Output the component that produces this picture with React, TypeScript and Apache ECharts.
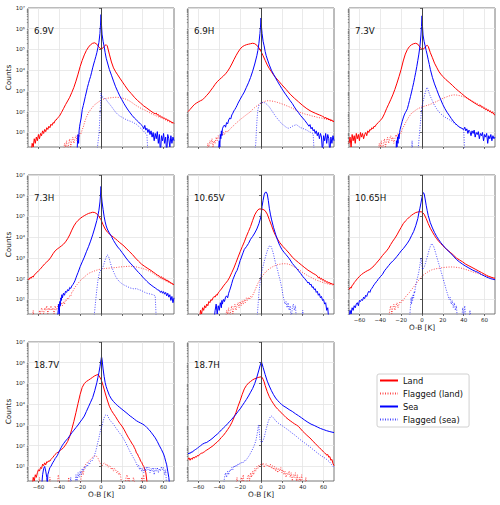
import React, { useEffect, useRef } from 'react';
import * as echarts from 'echarts';

type Pt = [number, number];

const PANEL_LABELS = ['6.9V', '6.9H', '7.3V', '7.3H', '10.65V', '10.65H', '18.7V', '18.7H'];
const SERIES_NAMES = ['Land', 'Flagged (land)', 'Sea', 'Flagged (sea)'];
const X_TICKS = [-60, -40, -20, 0, 20, 40, 60];
const Y_TICKS = [10, 100, 1000, 1e4, 1e5, 1e6, 1e7];
const X_MIN = -70;
const X_MAX = 70;
const Y_MIN = 2;
const Y_MAX = 1e7;
const X_NAME = 'O-B [K]';
const Y_NAME = 'Counts';

// ---------- 6.9V ----------
const LAND_69V: Pt[] = [[-67,1],[-66,3],[-65,2],[-64,5],[-63,3],[-62,6],[-61,4],[-60,8],[-59,5],[-58,9],[-57,7],[-56,12],[-55,9],[-54,14],[-53,11],[-52,17],[-51,14],[-50,20],[-49,17],[-48,25],[-47,22],[-46,30],[-45,28],[-44,38],[-43,40],[-42,48],[-40,60],[-38,90],[-36,140],[-34,220],[-32,330],[-30,500],[-28,850],[-26,1500],[-24,3000],[-22,6500],[-20,1.5e4],[-18,3e4],[-16,5.5e4],[-14,9e4],[-12,1.3e5],[-10,1.7e5],[-8,2e5],[-6,2.1e5],[-4,1.8e5],[-2,1.3e5],[0,1.05e5],[2,1.2e5],[4,1.6e5],[5,1.7e5],[6,1.5e5],[8,6e4],[10,2.5e4],[12,1.3e4],[14,8.5e3],[16,6e3],[18,4.2e3],[20,3e3],[23,1.8e3],[26,1.1e3],[29,750],[32,500],[35,350],[38,260],[41,190],[44,150],[47,115],[50,90],[52,80],[53,86],[54,70],[55,74],[56,60],[57,64],[58,54],[59,56],[60,48],[61,50],[62,42],[63,45],[64,37],[65,40],[66,33],[67,35],[68,29],[69,31],[70,27]];
const FLAG_LAND_69V: Pt[] = [[-36,1],[-35,3],[-34,2],[-33,4],[-32,1],[-31,3],[-30,5],[-29,2],[-28,4],[-27,6],[-26,3],[-25,5],[-24,7],[-23,4],[-22,8],[-21,6],[-20,10],[-19,9],[-18,14],[-17,18],[-16,28],[-15,40],[-14,55],[-13,70],[-12,90],[-10,125],[-8,170],[-6,220],[-4,260],[-2,310],[0,350],[2,400],[4,430],[6,450],[9,470],[12,490],[15,500],[18,480],[21,450],[24,400],[27,340],[30,270],[33,210],[36,170],[39,140],[42,120],[45,100],[48,82],[51,70],[54,60],[57,52],[60,45],[63,38],[66,32],[70,26]];
const SEA_69V: Pt[] = [[-23,1],[-22.5,4],[-22,8],[-21.5,3],[-21,12],[-20.5,20],[-20,28],[-19,50],[-18,125],[-17,200],[-16,330],[-15,550],[-14,900],[-13,1.5e3],[-12,2.3e3],[-11,3.5e3],[-10,5e3],[-9,8e3],[-8,1.3e4],[-7,2e4],[-6,3e4],[-5,4.5e4],[-4,7e4],[-3,1.2e5],[-2,2.2e5],[-1,6e5],[-0.5,1.5e6],[0,4.8e6],[0.5,1.5e6],[1,5.5e5],[2,2.5e5],[3,1.4e5],[4,7e4],[5,3.8e4],[6,2.5e4],[8,1.1e4],[10,5.8e3],[12,3e3],[14,1.6e3],[16,950],[18,580],[20,380],[22,250],[24,170],[26,120],[28,88],[30,65],[32,50],[34,40],[36,32],[38,25],[40,20],[41,15],[42,22],[43,13],[44,16],[45,10],[46,14],[47,8],[48,12],[49,6],[50,10],[51,4],[52,9],[53,5],[54,11],[55,3],[56,8],[57,1],[58,7],[59,4],[60,9],[61,3],[62,6],[63,1],[64,8],[65,5],[66,2],[67,7],[68,3],[69,6],[70,4]];
const FLAG_SEA_69V: Pt[] = [[-4,1],[-3,3],[-2,8],[-1.5,20],[-1,60],[-0.5,200],[0,800],[0.5,600],[1,500],[2,520],[3,450],[4,400],[5,380],[6,320],[8,240],[10,180],[12,130],[14,95],[16,75],[18,62],[20,55],[22,48],[24,42],[26,38],[28,35],[30,32],[32,28],[34,25],[36,20],[38,16],[40,13],[42,10],[44,8],[45,1]];

// ---------- 6.9H ----------
const LAND_69H: Pt[] = [[-70,100],[-68,130],[-66,170],[-64,220],[-62,260],[-60,300],[-58,340],[-56,380],[-54,480],[-52,620],[-50,800],[-48,1.1e3],[-46,1.5e3],[-44,2.1e3],[-42,2.8e3],[-40,3.5e3],[-38,4.3e3],[-36,5.3e3],[-34,6.7e3],[-32,9e3],[-30,1.3e4],[-28,2e4],[-26,3.2e4],[-24,5e4],[-22,7.5e4],[-20,1.05e5],[-18,1.35e5],[-16,1.55e5],[-14,1.7e5],[-12,1.8e5],[-10,1.9e5],[-8,2e5],[-6,1.9e5],[-4,1.6e5],[-2,1.2e5],[0,8e4],[2,5e4],[4,3e4],[6,1.8e4],[8,1.2e4],[10,8.5e3],[12,6e3],[14,4.5e3],[17,3e3],[20,2e3],[24,1.2e3],[28,700],[32,450],[36,300],[40,200],[44,140],[48,105],[52,85],[56,70],[58,64],[59,60],[60,58],[61,48],[62,55],[63,44],[64,50],[65,40],[66,45],[67,36],[68,40],[69,33],[70,35]];
const FLAG_LAND_69H: Pt[] = [[-52,1],[-51,3],[-50,2],[-49,4],[-48,3],[-47,5],[-46,2],[-45,4],[-44,3],[-43,6],[-42,4],[-41,7],[-40,5],[-39,6],[-38,9],[-37,7],[-36,10],[-35,8],[-34,11],[-33,10],[-32,13],[-31,12],[-30,14],[-28,18],[-26,22],[-24,28],[-22,34],[-20,42],[-18,50],[-16,60],[-14,72],[-12,85],[-10,100],[-8,130],[-6,160],[-4,190],[-2,220],[0,260],[2,290],[4,320],[6,340],[8,340],[10,330],[13,310],[16,280],[19,250],[22,220],[25,190],[28,165],[31,140],[34,115],[37,95],[40,85],[43,75],[46,70],[49,62],[52,58],[55,52],[58,50],[61,46],[64,42],[67,40],[70,38]];
const SEA_69H: Pt[] = [[-41,1],[-40,4],[-39.5,2],[-39,8],[-38.5,5],[-38,12],[-37.5,7],[-37,15],[-36,20],[-35,23],[-34,18],[-33,30],[-32,26],[-31,40],[-30,50],[-29,45],[-28,70],[-27,85],[-26,110],[-25,130],[-24,160],[-23,200],[-22,260],[-20,400],[-18,600],[-16,900],[-14,1.5e3],[-12,2.5e3],[-10,4.5e3],[-8,9e3],[-6,2e4],[-4,5e4],[-3,9e4],[-2,2e5],[-1,6e5],[-0.5,1.2e6],[0,3.3e6],[0.5,1.2e6],[1,6e5],[2,2.5e5],[3,1.5e5],[4,8e4],[5,5e4],[6,3.5e4],[8,1.8e4],[10,1e4],[12,6.5e3],[14,4.2e3],[16,2.8e3],[18,1.9e3],[20,1.3e3],[22,900],[24,650],[26,470],[28,340],[30,250],[32,170],[34,120],[36,90],[38,65],[40,50],[42,38],[44,28],[46,20],[47,24],[48,15],[49,18],[50,12],[51,14],[52,9],[53,12],[54,7],[55,10],[56,5],[57,9],[58,6],[59,1],[60,7],[61,4],[62,9],[63,3],[64,8],[65,5],[66,1],[67,6],[68,3],[69,7],[70,4]];
const FLAG_SEA_69H: Pt[] = [[-6,1],[-5,3],[-4.5,10],[-4,30],[-3.5,70],[-3,120],[-2,200],[-1,250],[0,270],[1,280],[2,270],[3,280],[4,260],[5,240],[6,220],[8,170],[10,120],[12,85],[14,60],[16,45],[18,34],[20,26],[22,22],[24,18],[26,16],[28,17],[30,20],[32,22],[34,24],[36,20],[38,17],[40,16],[42,14],[44,13],[46,11],[48,10],[50,9],[51,1]];

// ---------- 7.3V ----------
const LAND_73V: Pt[] = [[-70,3],[-69,6],[-68,2],[-67,8],[-66,4],[-65,7],[-64,3],[-63,9],[-62,5],[-61,8],[-60,4],[-59,10],[-58,6],[-57,9],[-56,5],[-55,8],[-54,10],[-53,7],[-52,12],[-51,10],[-50,14],[-49,13],[-48,17],[-47,15],[-46,20],[-45,19],[-44,24],[-43,26],[-42,30],[-40,38],[-38,50],[-36,80],[-34,140],[-32,230],[-30,380],[-28,650],[-26,1.2e3],[-24,2.4e3],[-22,5e3],[-20,1.1e4],[-18,2.8e4],[-16,6e4],[-14,1e5],[-12,1.4e5],[-10,1.7e5],[-8,1.9e5],[-6,2e5],[-4,1.8e5],[-2,1.3e5],[0,1e5],[2,1.1e5],[4,1.5e5],[5,1.6e5],[6,1.4e5],[8,7e4],[10,4e4],[12,2.2e4],[14,1.4e4],[16,9e3],[18,6.5e3],[20,5e3],[23,3.5e3],[26,2.6e3],[29,1.9e3],[32,1.35e3],[35,1e3],[38,750],[41,560],[44,430],[47,340],[50,270],[53,220],[55,190],[56,205],[57,165],[58,175],[59,145],[60,150],[61,125],[62,135],[63,110],[64,118],[65,98],[66,102],[67,86],[68,92],[69,74],[70,70]];
const FLAG_LAND_73V: Pt[] = [[-42,1],[-41,3],[-40,2],[-39,4],[-38,1],[-37,3],[-36,5],[-35,2],[-34,4],[-33,6],[-32,3],[-31,5],[-30,7],[-29,4],[-28,6],[-27,3],[-26,5],[-25,8],[-24,6],[-23,9],[-22,7],[-21,10],[-20,9],[-19,14],[-18,18],[-17,22],[-16,28],[-15,35],[-14,42],[-13,52],[-12,62],[-10,85],[-8,100],[-6,120],[-4,140],[-2,155],[0,170],[3,190],[6,210],[9,240],[12,280],[15,330],[18,400],[21,460],[24,530],[27,600],[30,650],[33,640],[36,600],[39,550],[42,480],[45,400],[48,340],[51,280],[54,230],[57,190],[60,160],[63,130],[66,110],[70,87]];
const SEA_73V: Pt[] = [[-25,1],[-24.5,4],[-24,2],[-23.5,6],[-23,3],[-22.5,8],[-22,5],[-21.5,10],[-21,14],[-20,22],[-19,34],[-18,50],[-17,70],[-16,90],[-15,110],[-14,140],[-13,220],[-12,350],[-11,550],[-10,900],[-9,1.5e3],[-8,2.5e3],[-7,4.5e3],[-6,8e3],[-5,1.5e4],[-4,3e4],[-3,6e4],[-2,1.4e5],[-1,5e5],[-0.5,1.3e6],[0,4.2e6],[0.5,1.3e6],[1,5e5],[2,2.5e5],[3,1.5e5],[4,9e4],[5,5.5e4],[6,3.2e4],[7,1.9e4],[8,1.1e4],[10,4.5e3],[12,2.2e3],[14,1.2e3],[16,650],[18,380],[20,220],[22,140],[24,95],[26,68],[28,48],[30,35],[32,27],[34,22],[36,18],[38,16],[40,14],[41,18],[42,12],[43,15],[44,9],[45,13],[46,11],[47,7],[48,12],[49,9],[50,13],[51,6],[52,10],[53,8],[54,11],[55,5],[56,9],[57,7],[58,10],[59,4],[60,8],[61,6],[62,9],[63,3],[64,7],[65,5],[66,8],[67,4],[68,7],[69,5],[70,6]];
const FLAG_SEA_73V: Pt[] = [[-10,1],[-9.5,4],[-9,1],[-4,1],[-3,4],[-2,15],[-1,60],[0,180],[1,300],[2,500],[3,800],[4,1.2e3],[4.8,1.5e3],[5.5,1.3e3],[6.5,900],[8,550],[9.5,380],[11,250],[12.7,180],[14,140],[16,100],[18,80],[20,65],[22,55],[24,48],[26,42],[28,36],[30,30],[32,25],[34,21],[36,18],[38,16],[40,14],[41,1]];

// ---------- 7.3H ----------
const LAND_73H: Pt[] = [[-70,100],[-69,90],[-68,115],[-67,105],[-66,130],[-65,120],[-64,150],[-62,190],[-60,240],[-58,300],[-56,400],[-54,520],[-52,650],[-50,800],[-48,1.1e3],[-46,1.6e3],[-44,2.2e3],[-42,2.7e3],[-40,3.2e3],[-38,3.8e3],[-36,4.6e3],[-34,6e3],[-32,8.5e3],[-30,1.3e4],[-28,2.2e4],[-26,3.5e4],[-24,5e4],[-22,6.5e4],[-20,8e4],[-18,9.5e4],[-16,1.1e5],[-14,1.25e5],[-12,1.4e5],[-10,1.5e5],[-8,1.6e5],[-6,1.55e5],[-4,1.35e5],[-2,1e5],[0,7e4],[2,4e4],[4,2.5e4],[6,1.8e4],[8,1.45e4],[10,1.2e4],[12,1e4],[14,8.3e3],[16,6.8e3],[18,5.5e3],[21,4.2e3],[24,3e3],[27,2.1e3],[30,1.5e3],[33,1e3],[36,700],[39,500],[42,390],[45,310],[48,250],[50,210],[52,180],[54,150],[56,135],[57,115],[58,125],[59,100],[60,110],[61,90],[62,95],[63,78],[64,85],[65,68],[66,72],[67,60],[68,62],[69,52],[70,55]];
const FLAG_LAND_73H: Pt[] = [[-66,1],[-65,3],[-64,1],[-60,1],[-59,3],[-58,2],[-57,4],[-56,3],[-55,2],[-54,4],[-53,3],[-52,5],[-51,2],[-50,4],[-49,3],[-48,5],[-47,3],[-46,4],[-45,2],[-44,5],[-43,3],[-42,4],[-41,6],[-40,4],[-39,5],[-38,7],[-37,5],[-36,8],[-35,6],[-34,10],[-33,9],[-32,12],[-31,11],[-30,15],[-29,14],[-28,22],[-27,25],[-26,32],[-25,38],[-24,45],[-23,52],[-22,60],[-20,80],[-18,100],[-16,120],[-14,150],[-12,180],[-10,200],[-8,220],[-6,240],[-4,260],[-2,280],[0,290],[3,310],[6,320],[9,330],[12,340],[15,350],[18,370],[21,380],[24,390],[27,400],[30,395],[33,380],[36,350],[39,320],[42,290],[45,250],[48,210],[51,170],[54,130],[57,105],[60,90],[63,75],[66,65],[70,52]];
const SEA_73H: Pt[] = [[-42,1],[-41,3],[-40.5,6],[-40,2],[-39.5,8],[-39,5],[-38.5,12],[-38,9],[-37.5,17],[-37,12],[-36,20],[-35,16],[-34,25],[-33,22],[-32,30],[-31,26],[-30,38],[-29,34],[-28,45],[-27,52],[-26,63],[-25,80],[-24,110],[-23,150],[-22,200],[-20,380],[-18,650],[-16,1.1e3],[-14,2e3],[-12,3.5e3],[-10,6.5e3],[-8,1.3e4],[-6,2.8e4],[-4,6.5e4],[-3,1.1e5],[-2,2e5],[-1,5e5],[-0.5,1e6],[0,2.8e6],[0.5,1e6],[1,5e5],[2,2.2e5],[3,1e5],[4,5.5e4],[5,3.5e4],[6,2.5e4],[8,1.6e4],[10,1.1e4],[12,7e3],[14,4.8e3],[16,3.4e3],[18,2.6e3],[20,1.9e3],[22,1.4e3],[24,1e3],[26,750],[28,570],[30,450],[32,340],[34,260],[36,200],[38,160],[40,120],[42,95],[44,75],[46,60],[48,50],[50,42],[52,36],[54,30],[56,27],[57,22],[58,26],[59,20],[60,24],[61,18],[62,22],[63,15],[64,20],[65,13],[66,17],[67,9],[68,14],[69,7],[70,12]];
const FLAG_SEA_73H: Pt[] = [[-7,1],[-6,3],[-5,10],[-4,30],[-3,80],[-2,150],[-1,230],[0,270],[1,300],[2,380],[3,550],[4,800],[5,1.1e3],[6,1.4e3],[6.5,1.45e3],[7,1.3e3],[8,900],[9,570],[10,400],[12,220],[14,130],[16,90],[18,70],[20,58],[22,50],[24,45],[26,40],[28,36],[30,34],[32,32],[34,34],[36,30],[38,28],[40,25],[42,22],[44,20],[46,19],[48,18],[50,17],[52,15],[53,1]];

// ---------- 10.65V ----------
const LAND_1065V: Pt[] = [[-59,1],[-58,3],[-57,2],[-56,4],[-55,3],[-54,5],[-53,4],[-52,6],[-51,5],[-50,8],[-49,7],[-48,10],[-47,9],[-46,12],[-45,14],[-44,13],[-43,17],[-42,16],[-41,21],[-40,24],[-39,28],[-38,32],[-36,45],[-34,60],[-32,80],[-30,120],[-28,200],[-26,330],[-24,600],[-22,1.1e3],[-20,2e3],[-18,3.5e3],[-16,6e3],[-14,1.1e4],[-12,1.9e4],[-10,3.3e4],[-8,6.5e4],[-6,1.2e5],[-4,1.8e5],[-2,2.3e5],[0,2.3e5],[2,2.2e5],[4,1.9e5],[6,1.3e5],[8,7e4],[10,3.8e4],[12,2e4],[14,1.2e4],[16,8e3],[18,5.5e3],[21,3.6e3],[24,2.5e3],[27,1.7e3],[30,1.1e3],[33,800],[36,600],[39,450],[42,340],[45,260],[48,210],[50,180],[52,160],[54,135],[55,110],[56,120],[57,95],[58,105],[59,85],[60,92],[61,75],[62,80],[63,66],[64,72],[65,60],[66,66],[67,55],[68,60],[69,52],[70,56]];
const FLAG_LAND_1065V: Pt[] = [[-34,1],[-33,3],[-32,2],[-31,4],[-30,1],[-29,3],[-28,5],[-27,2],[-26,4],[-25,6],[-24,3],[-23,5],[-22,7],[-21,4],[-20,8],[-19,5],[-18,9],[-17,6],[-16,10],[-15,7],[-14,12],[-13,9],[-12,13],[-11,10],[-10,14],[-9,12],[-8,16],[-7,20],[-6,26],[-5,35],[-4,45],[-3,60],[-2,75],[-1,90],[0,107],[2,150],[4,200],[6,250],[8,300],[10,350],[12,400],[14,440],[16,480],[18,500],[20,520],[22,530],[24,530],[26,510],[28,470],[30,420],[32,370],[34,320],[37,260],[40,200],[43,160],[46,130],[49,110],[52,90],[55,80],[58,70],[61,62],[64,57],[67,52],[70,50]];
const SEA_1065V: Pt[] = [[-45,1],[-44,3],[-43,6],[-42,2],[-41,5],[-40,3],[-39,7],[-38,4],[-37.5,9],[-37,6],[-36,10],[-35,8],[-34,13],[-33,15],[-32,12],[-31,20],[-30,28],[-29,40],[-28,60],[-27,90],[-26,120],[-25,160],[-24,210],[-23,250],[-22,350],[-21,500],[-20,750],[-19,1e3],[-18,1.4e3],[-17,1.9e3],[-16,2.6e3],[-14,3.5e3],[-12,5e3],[-10,8e3],[-8,1.1e4],[-6,1.6e4],[-4,2.5e4],[-2,4.5e4],[0,1e5],[1,3e5],[2,6e5],[3,1.1e6],[4,1.45e6],[5,1.5e6],[6,1.2e6],[7,6e5],[8,2.5e5],[9,1.3e5],[10,7.5e4],[12,3e4],[14,1.4e4],[16,7e3],[18,4e3],[20,2.6e3],[22,1.9e3],[24,1.45e3],[26,1.1e3],[28,800],[30,550],[32,420],[34,320],[36,240],[38,180],[40,130],[42,100],[44,75],[45,62],[46,68],[47,50],[48,55],[49,38],[50,42],[51,30],[52,33],[53,22],[54,25],[55,16],[56,19],[57,12],[58,14],[59,9],[60,10],[61,6],[62,7],[63,3],[64,4],[65,1]];
const FLAG_SEA_1065V: Pt[] = [[-4,1],[-3,4],[-2,20],[-1,60],[0,150],[1,250],[2,400],[3,650],[4,1e3],[5,1.5e3],[6,2.2e3],[7,3e3],[8,3.8e3],[9,4e3],[10,3.3e3],[11,2.3e3],[12,1.5e3],[13,900],[14,550],[15,380],[16,250],[17,150],[18,100],[19,60],[20,35],[21,17],[22,10],[23,6],[24,8],[25,4],[26,7],[27,3],[28,5],[29,1],[30,4],[31,6],[32,3],[33,5],[34,1],[39,1],[40,3],[41,1]];

// ---------- 10.65H ----------
const LAND_1065H: Pt[] = [[-70,30],[-69,38],[-68,35],[-67,48],[-66,52],[-65,65],[-64,75],[-62,100],[-60,130],[-58,160],[-56,190],[-54,220],[-52,250],[-50,280],[-48,340],[-46,420],[-44,550],[-42,720],[-40,950],[-38,1.3e3],[-36,1.7e3],[-34,2.2e3],[-32,3e3],[-30,4.5e3],[-28,6.5e3],[-26,9e3],[-24,1.3e4],[-22,2e4],[-20,3e4],[-18,4.5e4],[-16,6e4],[-14,7.5e4],[-12,9.5e4],[-10,1.15e5],[-8,1.35e5],[-6,1.55e5],[-4,1.65e5],[-2,1.7e5],[0,1.65e5],[2,1.3e5],[4,8e4],[6,4.5e4],[8,2.7e4],[10,1.8e4],[12,1.2e4],[14,8.5e3],[16,6.4e3],[18,5e3],[20,3.9e3],[22,3.1e3],[24,2.5e3],[27,1.9e3],[30,1.4e3],[33,1e3],[36,800],[39,650],[42,500],[45,420],[48,350],[51,290],[54,240],[57,200],[60,165],[62,145],[64,130],[66,120],[68,110],[70,105]];
const FLAG_LAND_1065H: Pt[] = [[-32,1],[-31,3],[-30,5],[-29,2],[-28,4],[-27,6],[-26,3],[-25,5],[-24,7],[-23,4],[-22,6],[-21,8],[-20,7],[-19,10],[-18,9],[-17,11],[-16,13],[-15,15],[-14,17],[-13,20],[-12,22],[-11,26],[-10,30],[-8,40],[-6,55],[-4,75],[-2,100],[0,130],[2,160],[4,190],[6,220],[8,250],[10,275],[13,300],[16,320],[19,340],[22,355],[25,365],[28,370],[31,365],[34,350],[37,330],[40,300],[43,270],[46,240],[49,210],[52,190],[55,170],[58,155],[61,140],[64,125],[67,115],[70,107]];
const SEA_1065H: Pt[] = [[-70,1],[-69,3],[-68,2],[-67,4],[-66,3],[-65,5],[-64,4],[-63,6],[-62,7],[-61,5],[-60,9],[-59,8],[-58,10],[-57,9],[-56,13],[-55,11],[-54,16],[-53,14],[-52,20],[-51,25],[-50,22],[-49,30],[-48,35],[-47,42],[-46,52],[-45,58],[-44,70],[-43,78],[-42,95],[-41,107],[-40,125],[-38,160],[-36,240],[-34,320],[-32,430],[-30,570],[-28,720],[-26,900],[-24,1.2e3],[-22,1.6e3],[-20,2.2e3],[-18,2.8e3],[-16,3.8e3],[-14,5.2e3],[-12,7.5e3],[-10,1.2e4],[-8,1.9e4],[-6,3.6e4],[-4,8e4],[-3,1.5e5],[-2,2.5e5],[-1,4.5e5],[0,8.5e5],[1,1.4e6],[1.5,1.45e6],[2,1.3e6],[3,7e5],[4,3.5e5],[5,1.9e5],[6,1.1e5],[8,5e4],[10,2.8e4],[12,1.7e4],[14,1.1e4],[16,7.7e3],[18,5.5e3],[20,4.2e3],[22,3.2e3],[24,2.5e3],[27,1.8e3],[30,1.25e3],[33,850],[36,640],[39,500],[42,400],[45,330],[48,270],[51,230],[54,200],[57,160],[60,135],[62,120],[64,110],[66,100],[68,95],[70,90]];
const FLAG_SEA_1065H: Pt[] = [[-12,1],[-11,5],[-10.5,12],[-10,6],[-9.5,14],[-9,9],[-8.5,18],[-8,12],[-7.5,25],[-7,20],[-6.5,35],[-6,45],[-5,80],[-4,130],[-3,220],[-2,450],[-1,1e3],[-0.5,800],[0,400],[0.5,280],[1,270],[2,350],[3,500],[4,750],[5,1.1e3],[6,1.7e3],[7,2.6e3],[8,3.6e3],[9,4.6e3],[9.5,4.9e3],[10,4.7e3],[11,3.8e3],[12,2.7e3],[13,1.8e3],[14,1.2e3],[15,800],[16,550],[17,370],[18,250],[19,170],[20,110],[21,75],[22,50],[23,32],[24,22],[25,15],[26,10],[27,13],[28,6],[29,9],[30,4],[31,7],[32,3],[33,5],[34,1],[38,1],[39,4],[40,2],[41,5],[42,1],[45,1],[46,3],[47,1]];

// ---------- 18.7V ----------
const LAND_187V: Pt[] = [[-66,1],[-65,3],[-64,2],[-63,4],[-62,3],[-61,5],[-60,7],[-59,6],[-58,9],[-57,8],[-56,13],[-55,11],[-54,15],[-53,12],[-52,17],[-51,16],[-50,19],[-49,18],[-48,22],[-47,25],[-46,28],[-45,33],[-44,38],[-43,42],[-42,48],[-41,45],[-40,55],[-39,60],[-38,65],[-36,80],[-34,110],[-32,160],[-30,280],[-28,630],[-26,1.5e3],[-24,4e3],[-22,1.1e4],[-20,3e4],[-18,6.5e4],[-16,1e5],[-14,1.25e5],[-12,1.45e5],[-10,1.7e5],[-8,2e5],[-6,2.35e5],[-4,2.6e5],[-3,2.7e5],[-2,2.4e5],[0,1.6e5],[2,8e4],[4,3.5e4],[6,1.6e4],[8,8e3],[10,5e3],[12,3.5e3],[14,2.5e3],[16,1.7e3],[18,1.2e3],[20,900],[22,620],[24,400],[26,260],[28,180],[30,120],[31,105],[32,80],[33,65],[34,45],[35,40],[36,30],[37,25],[38,18],[39,16],[40,12],[41,10],[42,7],[43,5],[44,2],[45,1]];
const FLAG_LAND_187V: Pt[] = [[-60,1],[-59,3],[-58,1],[-50,1],[-49,3],[-48,1],[-42,1],[-41,4],[-40,2],[-39,1],[-32,1],[-31,3],[-30,1],[-20,1],[-19,3],[-18,6],[-17,4],[-16,9],[-15,12],[-14,14],[-13,16],[-12,18],[-11,20],[-10,22],[-9,25],[-8,28],[-7,30],[-6,32],[-5,33],[-4,30],[-3,26],[-2,20],[-1,15],[0,12],[1,10],[2,13],[3,15],[4,14],[5,11],[6,13],[7,9],[8,11],[9,10],[10,7],[11,9],[12,6],[13,8],[14,7],[15,5],[16,6],[17,4],[18,5],[19,3],[20,1],[23,1],[24,3],[25,4],[26,2],[27,3],[28,1],[30,1],[31,3],[32,2],[33,1],[38,1],[39,3],[40,2],[41,4],[42,1]];
const SEA_187V: Pt[] = [[-57,1],[-56,4],[-55,8],[-54,10],[-53,6],[-52,3],[-51.5,1],[-51,4],[-50,6],[-49,9],[-48,10],[-47,13],[-46,16],[-45,19],[-44,24],[-43,28],[-42,33],[-41,42],[-40,55],[-39,68],[-38,85],[-37,105],[-36,125],[-34,170],[-32,220],[-30,300],[-28,420],[-26,560],[-24,750],[-22,1e3],[-20,1.4e3],[-18,1.9e3],[-16,2.7e3],[-14,4.5e3],[-12,7.5e3],[-10,1.25e4],[-8,2.1e4],[-6,4.5e4],[-4,1.1e5],[-3,1.9e5],[-2,3.3e5],[-1,6.5e5],[0,1.4e6],[0.5,1.95e6],[1,1.5e6],[2,5e5],[3,2.2e5],[4,1.1e5],[5,7e4],[6,5e4],[8,2.7e4],[10,1.8e4],[12,1.35e4],[14,1.05e4],[16,8.5e3],[18,7e3],[20,5.8e3],[22,4.8e3],[24,4e3],[26,3.3e3],[28,2.7e3],[30,2.3e3],[32,1.9e3],[34,1.6e3],[36,1.4e3],[38,1.25e3],[40,1.1e3],[42,950],[44,750],[46,600],[48,450],[50,330],[52,240],[54,160],[56,100],[58,65],[60,40],[61,28],[62,18],[63,12],[64,6],[65,3],[66,1]];
const FLAG_SEA_187V: Pt[] = [[-30,1],[-29,3],[-28,1],[-25,1],[-24,4],[-23,2],[-22,5],[-21,3],[-20,6],[-19,4],[-18,8],[-17,6],[-16,10],[-15,8],[-14,12],[-13,10],[-12,15],[-11,13],[-10,18],[-9,17],[-8,22],[-7,28],[-6,38],[-5,55],[-4,90],[-3,150],[-2,230],[-1,420],[0,700],[1,900],[2,1.5e3],[3,2.2e3],[4,2.9e3],[5,3.2e3],[6,3e3],[7,2.4e3],[8,1.9e3],[9,1.6e3],[10,1.4e3],[12,1.1e3],[14,750],[16,550],[18,400],[20,300],[22,200],[24,130],[26,80],[28,50],[30,33],[32,22],[34,14],[35,10],[36,12],[37,7],[38,9],[39,6],[40,8],[41,5],[42,9],[43,6],[44,10],[45,7],[46,9],[47,5],[48,8],[49,6],[50,9],[51,4],[52,8],[53,6],[54,9],[55,5],[56,8],[57,6],[58,10],[59,7],[60,9],[61,4],[62,7],[63,1]];

// ---------- 18.7H ----------
const LAND_187H: Pt[] = [[-70,22],[-69,26],[-68,20],[-67,25],[-66,22],[-65,28],[-64,25],[-63,30],[-62,28],[-61,34],[-60,32],[-59,38],[-58,40],[-57,45],[-56,44],[-55,50],[-54,52],[-53,58],[-52,62],[-50,72],[-48,85],[-46,100],[-44,125],[-42,150],[-40,190],[-38,250],[-36,320],[-34,430],[-32,600],[-30,850],[-28,1.3e3],[-26,2.2e3],[-24,4e3],[-22,8e3],[-20,1.5e4],[-18,3e4],[-16,5.5e4],[-14,8e4],[-12,1.05e5],[-10,1.25e5],[-8,1.5e5],[-6,1.7e5],[-4,1.85e5],[-2,2e5],[0,2.1e5],[1,2e5],[2,1.6e5],[3,1.2e5],[4,8e4],[6,4e4],[8,2.3e4],[10,1.5e4],[12,1.05e4],[14,7.5e3],[16,5.8e3],[18,4.6e3],[20,3.7e3],[22,2.9e3],[24,2.3e3],[26,1.9e3],[28,1.6e3],[30,1.35e3],[32,1.15e3],[34,1e3],[36,850],[38,650],[40,500],[42,400],[44,320],[46,260],[48,210],[50,160],[52,130],[54,100],[56,80],[58,65],[60,50],[61,45],[62,42],[63,35],[64,38],[65,28],[66,30],[67,20],[68,22],[69,14],[70,11]];
const FLAG_LAND_187H: Pt[] = [[-24,1],[-23,3],[-22,1],[-20,1],[-19,3],[-18,2],[-17,4],[-16,1],[-14,1],[-13,3],[-12,4],[-11,2],[-10,5],[-9,3],[-8,6],[-7,4],[-6,8],[-5,6],[-4,10],[-3,8],[-2,12],[-1,10],[0,14],[1,11],[2,15],[3,9],[4,12],[5,14],[6,10],[7,12],[8,9],[9,13],[10,8],[11,11],[12,7],[13,10],[14,6],[15,9],[16,5],[17,8],[18,6],[19,9],[20,5],[21,7],[22,4],[23,6],[24,3],[25,5],[26,4],[27,6],[28,3],[29,5],[30,2],[31,4],[32,3],[33,5],[34,2],[35,4],[36,1],[37,3],[38,2],[39,4],[40,1],[42,1],[43,3],[44,1]];
const SEA_187H: Pt[] = [[-70,40],[-69,45],[-68,42],[-67,50],[-66,48],[-65,56],[-64,60],[-63,65],[-62,70],[-61,75],[-60,85],[-59,92],[-58,100],[-56,120],[-54,135],[-52,145],[-50,170],[-48,200],[-46,240],[-44,300],[-42,360],[-40,450],[-38,580],[-36,720],[-34,900],[-32,1.15e3],[-30,1.5e3],[-28,1.9e3],[-26,2.5e3],[-24,3.3e3],[-22,4.5e3],[-20,6e3],[-18,8.5e3],[-16,1.2e4],[-14,1.7e4],[-12,2.5e4],[-10,3.8e4],[-8,5.8e4],[-6,1e5],[-4,2e5],[-2,4.5e5],[-1,7e5],[0,1e6],[0.5,1.1e6],[1,9e5],[2,6e5],[3,4e5],[4,2.7e5],[6,1.3e5],[8,7.5e4],[10,4.5e4],[12,2.9e4],[14,2e4],[16,1.5e4],[18,1.2e4],[20,9.5e3],[22,8e3],[24,7e3],[27,5.5e3],[30,4.5e3],[33,3.5e3],[36,2.8e3],[39,2.2e3],[42,1.7e3],[45,1.35e3],[48,1.1e3],[51,950],[54,800],[57,680],[60,600],[63,530],[66,480],[70,430]];
const FLAG_SEA_187H: Pt[] = [[-36,1],[-35,3],[-34,5],[-33,3],[-32,6],[-31,4],[-30,7],[-29,6],[-28,9],[-27,7],[-26,11],[-25,9],[-24,12],[-23,10],[-22,14],[-21,12],[-20,15],[-19,14],[-18,17],[-17,15],[-16,19],[-15,18],[-14,22],[-13,25],[-12,30],[-11,35],[-10,45],[-9,55],[-8,70],[-7,90],[-6,120],[-5,170],[-4,300],[-3,600],[-2.5,1e3],[-2,800],[-1.5,400],[-1,200],[0,150],[1,145],[2,180],[3,250],[4,400],[5,650],[6,1e3],[7,1.5e3],[8,2e3],[9,2.5e3],[10,2.7e3],[11,2.5e3],[12,2.2e3],[14,1.6e3],[16,1.3e3],[18,1.1e3],[20,950],[22,800],[24,680],[26,580],[28,480],[30,400],[32,340],[34,280],[36,230],[38,190],[40,160],[42,135],[44,115],[46,95],[48,80],[50,65],[52,55],[54,45],[56,38],[58,32],[60,28],[62,24],[64,20],[66,16],[68,12],[70,9]];

const PANEL_DATA: Pt[][][] = [
  [LAND_69V, FLAG_LAND_69V, SEA_69V, FLAG_SEA_69V],
  [LAND_69H, FLAG_LAND_69H, SEA_69H, FLAG_SEA_69H],
  [LAND_73V, FLAG_LAND_73V, SEA_73V, FLAG_SEA_73V],
  [LAND_73H, FLAG_LAND_73H, SEA_73H, FLAG_SEA_73H],
  [LAND_1065V, FLAG_LAND_1065V, SEA_1065V, FLAG_SEA_1065V],
  [LAND_1065H, FLAG_LAND_1065H, SEA_1065H, FLAG_SEA_1065H],
  [LAND_187V, FLAG_LAND_187V, SEA_187V, FLAG_SEA_187V],
  [LAND_187H, FLAG_LAND_187H, SEA_187H, FLAG_SEA_187H],
];

// ---------- layout / style ----------
const FONT = 'DejaVu Sans';
const COL_LEFT = [28, 188, 349];
const ROW_TOP = [8, 175, 342];
const PANEL_W = 146;
const PANEL_H = 139;
const X_LABEL_PANELS = [5, 6, 7];
const SERIES_STYLE = [
  { color: '#ff0000', type: 'solid' as any, opacity: 1 },
  { color: '#ff0000', type: [1, 1.5] as any, opacity: 0.7 },
  { color: '#0000ff', type: 'solid' as any, opacity: 1 },
  { color: '#0000ff', type: [1, 1.5] as any, opacity: 0.7 },
];
const SUP = ['\u2070', '\u00b9', '\u00b2', '\u00b3', '\u2074', '\u2075', '\u2076', '\u2077', '\u2078', '\u2079'];

const MINOR_TICKS: number[] = [];
for (let e = 0; e < 7; e++) {
  for (let m = 2; m <= 9; m++) {
    const v = m * Math.pow(10, e);
    if (v >= Y_MIN && v <= Y_MAX) MINOR_TICKS.push(v);
  }
}

function buildOption() {
  const grid: any[] = [];
  const xAxis: any[] = [];
  const yAxis: any[] = [];
  const series: any[] = [];
  const graphic: any[] = [];
  const n = PANEL_LABELS.length;

  PANEL_LABELS.forEach((label, i) => {
    const col = i % 3;
    const row = Math.floor(i / 3);
    const left = COL_LEFT[col];
    const top = ROW_TOP[row];
    const showX = X_LABEL_PANELS.indexOf(i) >= 0;
    const showY = col === 0;

    grid.push({
      left, top, width: PANEL_W, height: PANEL_H,
      show: true, borderColor: '#555', borderWidth: 0.8, backgroundColor: 'transparent',
      containLabel: false,
    });

    xAxis.push({
      type: 'value', gridIndex: i, min: X_MIN, max: X_MAX,
      axisLine: { show: false },
      axisTick: { show: true, length: 2, customValues: X_TICKS, lineStyle: { color: '#333', width: 0.7 } },
      axisLabel: {
        show: showX, customValues: X_TICKS, margin: 3, fontSize: 5.5, color: '#222', fontFamily: FONT,
        formatter: (v: number) => (v < 0 ? '\u2212' + Math.abs(v) : String(v)),
      },
      splitLine: { show: true, lineStyle: { color: '#e4e4e4', width: 0.8 } },
      name: showX ? X_NAME : '',
      nameLocation: 'middle', nameGap: 10,
      nameTextStyle: { fontSize: 7.3, color: '#222', fontFamily: FONT },
    });

    yAxis.push({
      type: 'log', logBase: 10, gridIndex: i, min: Y_MIN, max: Y_MAX,
      axisLine: { show: false },
      axisTick: { show: true, length: 2, customValues: Y_TICKS, lineStyle: { color: '#333', width: 0.7 } },
      axisLabel: {
        show: showY, customValues: Y_TICKS, margin: 3, fontSize: 5.5, color: '#222', fontFamily: FONT,
        formatter: (v: number) => {
          const e = Math.round(Math.log10(v));
          return '10' + SUP[e];
        },
      },
      splitLine: { show: true, lineStyle: { color: '#e4e4e4', width: 0.8 } },
      name: showY ? Y_NAME : '',
      nameLocation: 'middle', nameGap: 16,
      nameTextStyle: { fontSize: 7.3, color: '#222', fontFamily: FONT },
    });

    graphic.push({
      type: 'text', x: left + 6, y: top + 22.5, silent: true, z: 10,
      style: { text: label, fontSize: 8.7, fontFamily: FONT, fill: '#111', verticalAlign: 'middle', align: 'left' },
    });

    PANEL_DATA[i].forEach((data, j) => {
      const st = SERIES_STYLE[j];
      const s: any = {
        type: 'line', name: SERIES_NAMES[j], xAxisIndex: i, yAxisIndex: i,
        data, symbol: 'none', showSymbol: false, clip: true, silent: true, z: 2 + j,
        lineStyle: { color: st.color, width: 1, type: st.type, opacity: st.opacity },
        itemStyle: { color: st.color },
        emphasis: { disabled: true },
      };
      if (j === 0) {
        s.markLine = {
          silent: true, symbol: ['none', 'none'], label: { show: false },
          lineStyle: { color: '#444', width: 1, type: 'solid' },
          emphasis: { disabled: true },
          data: [{ xAxis: 0 }],
        };
      }
      series.push(s);
    });
  });

  // minor ticks (log axis) as second, label-less y axes
  PANEL_LABELS.forEach((_, i) => {
    yAxis.push({
      type: 'log', logBase: 10, gridIndex: i, min: Y_MIN, max: Y_MAX, position: 'left',
      axisLine: { show: false },
      axisTick: { show: true, length: 1.2, customValues: MINOR_TICKS, lineStyle: { color: '#444', width: 0.5 } },
      axisLabel: { show: false },
      splitLine: { show: false },
    });
  });

  return {
    animation: false,
    backgroundColor: '#ffffff',
    textStyle: { fontFamily: FONT },
    grid, xAxis, yAxis, series, graphic,
    legend: {
      data: SERIES_NAMES,
      orient: 'vertical', left: 377, top: 374,
      padding: [2, 6, 3, 2],
      itemWidth: 18, itemHeight: 9, itemGap: 4,
      selectedMode: false,
      itemStyle: { opacity: 0 },
      textStyle: { fontSize: 8.3, color: '#111', fontFamily: FONT, lineHeight: 9 },
      borderColor: '#d0d0d0', borderWidth: 1, borderRadius: 2, backgroundColor: '#fff',
    },
  };
}

export default function App() {
  const ref = useRef<HTMLDivElement>(null);
  useEffect(() => {
    if (!ref.current) return;
    const chart = echarts.init(ref.current, undefined, { renderer: 'svg' });
    chart.setOption(buildOption() as any);
    return () => chart.dispose();
  }, []);
  return <div ref={ref} style={{ position: 'absolute', left: 0, top: 0, width: 500, height: 505 }} />;
}
